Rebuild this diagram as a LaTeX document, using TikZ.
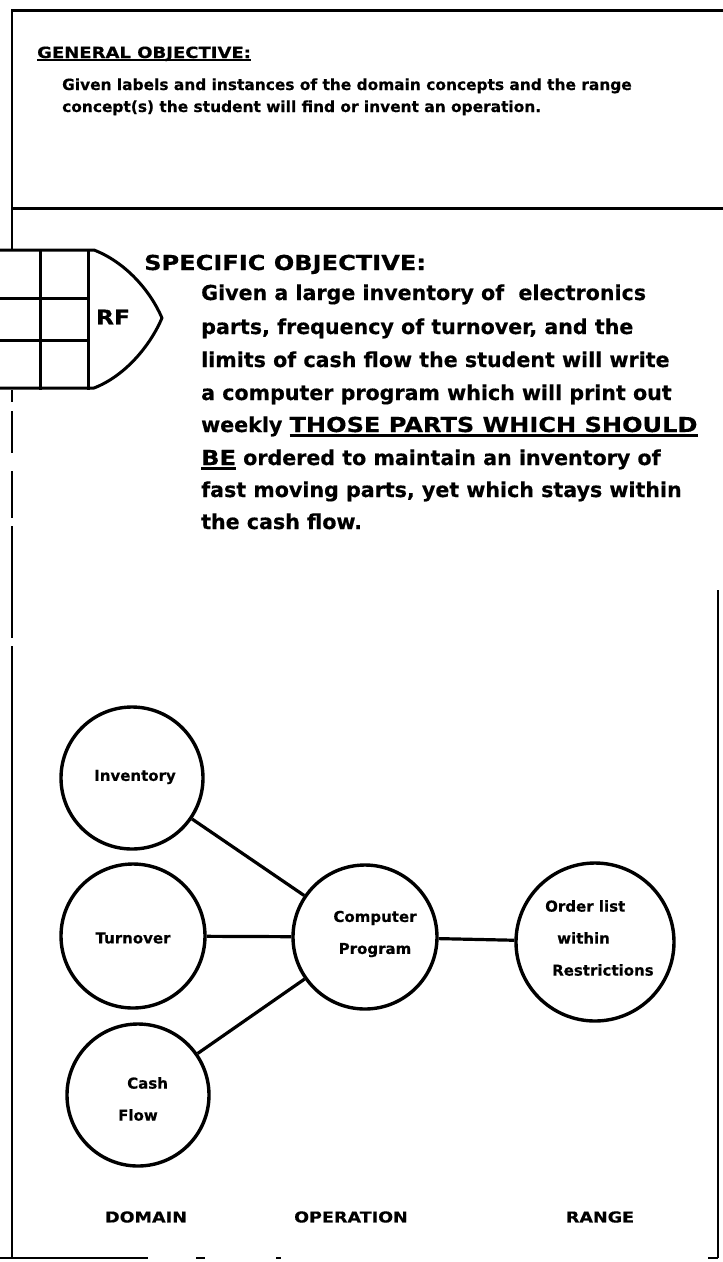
\documentclass[tikz,border=0pt]{standalone}
\usepackage{fontspec}
\setmainfont{DejaVu Sans}[BoldFeatures={FakeBold=0.5}]
\newfontfamily\wf{DejaVu Sans}[FakeStretch=1.17, BoldFeatures={FakeBold=0.5}]
\newcommand\myul[2][-4.5pt]{\setbox0=\hbox{#2}\rlap{\rule[#1]{\wd0}{2.2pt}}\box0\relax}
\begin{document}
\begin{tikzpicture}[x=1pt,y=-1pt,
  frame/.style={line width=3pt, line cap=rect},
  thin frame/.style={line width=2.5pt},
  conc/.style={circle, draw, line width=3.4pt, inner sep=0pt},
  link/.style={line width=3.2pt},
  gtxt/.style={font=\fontsize{15.4}{22}\selectfont\bfseries, inner sep=0pt, anchor=base west},
  stxt/.style={font=\fontsize{20.6}{32.7}\selectfont\bfseries, inner sep=0pt, anchor=base west},
  ctxt/.style={font=\fontsize{15}{32}\selectfont\bfseries, inner sep=0pt},
  ltxt/.style={font=\fontsize{15}{18}\selectfont\bfseries\wf, inner sep=0pt}]
\useasboundingbox (0,0) rectangle (723,1262);

% frame of the general objective
\draw[frame] (12,10) -- (723,10);
\draw[frame] (12,208) -- (723,208);
\draw[thin frame] (12,10) -- (12,250);

% RF grid and pointer
\draw[frame, line join=round] (0,250) -- (94,250) .. controls (125,262) and (150,290) .. (162,318)
  .. controls (150,346) and (125,376) .. (94,388) -- (0,388);
\draw[frame] (0,298) -- (88,298);
\draw[frame] (0,340) -- (88,340);
\draw[frame] (40,250) -- (40,388);
\draw[frame] (88,250) -- (88,388);
\node[font=\fontsize{20}{24}\selectfont\bfseries\wf, inner sep=0pt] (rf) at (113,317) {RF};

% left border: dashed part then solid
\draw[thin frame] (12,390) -- (12,402);
\draw[thin frame] (12,411) -- (12,453);
\draw[thin frame] (12,471) -- (12,518);
\draw[thin frame] (12,526) -- (12,638);
\draw[thin frame] (12,646) -- (12,1258);
% right and bottom border
\draw[thin frame] (718,590) -- (718,1258);
\draw[thin frame] (0,1258) -- (148,1258);
\draw[line width=1.2pt] (196,1258) -- (205,1258);
\draw[line width=1.2pt] (276,1258) -- (281,1258);
\draw[thin frame] (708,1258) -- (718,1258);

% general objective text
\node[gtxt] (gh) at (37,58) {\myul[-3pt]{\wf GENERAL OBJECTIVE:}};
\node[gtxt] (g1) at (62,90) {Given labels and instances of the domain concepts and the range};
\node[gtxt] (g2) at (62,112) {concept(s) the student will find or invent an operation.};

% specific objective text
\node[stxt] (sh) at (144,270) {{\wf SPECIFIC OBJECTIVE:}};
\node[stxt] (s1) at (201,300) {Given a large inventory of \ electronics};
\node[stxt] (s2) at (201,334) {parts, frequency of turnover, and the};
\node[stxt] (s3) at (201,367) {limits of cash flow the student will write};
\node[stxt] (s4) at (201,400) {a computer program which will print out};
\node[stxt] (s5) at (201,432) {weekly \myul{\wf THOSE PARTS WHICH SHOULD}};
\node[stxt] (s6) at (201,465) {\myul{\wf BE} ordered to maintain an inventory of};
\node[stxt] (s7) at (201,497) {fast moving parts, yet which stays within};
\node[stxt] (s8) at (201,529) {the cash flow.};

% concept circles
\node[conc, minimum size=142pt] (inv) at (132,778) {};
\node[conc, minimum size=144pt] (turn) at (133,936) {};
\node[conc, minimum size=142pt] (cash) at (138,1095) {};
\node[conc, minimum size=144pt] (comp) at (365,937) {};
\node[conc, minimum size=158pt] (order) at (595,942) {};

\node[ctxt] (invt) at (135,777) {Inventory};
\node[ctxt] (turnt) at (133,938) {Turnover};
\node[ctxt, align=left, anchor=west] (casht) at (118,1099) {\hspace*{9pt}Cash\\Flow};
\node[ctxt, align=center] (compt) at (375,934) {Computer\\Program};
\node[ctxt, align=left, anchor=west] (ordert) at (545,938) {Order list\\\hspace*{12pt}within\\\hspace*{7pt}Restrictions};

% connectors
\draw[link] (inv) -- (comp);
\draw[link] (turn) -- (comp);
\draw[link] (cash) -- (comp);
\draw[link] (comp) -- (order);

% column labels
\node[ltxt] (dom) at (146,1217) {DOMAIN};
\node[ltxt] (op) at (351,1217) {OPERATION};
\node[ltxt] (rng) at (600,1217) {RANGE};
\end{tikzpicture}
\end{document}
